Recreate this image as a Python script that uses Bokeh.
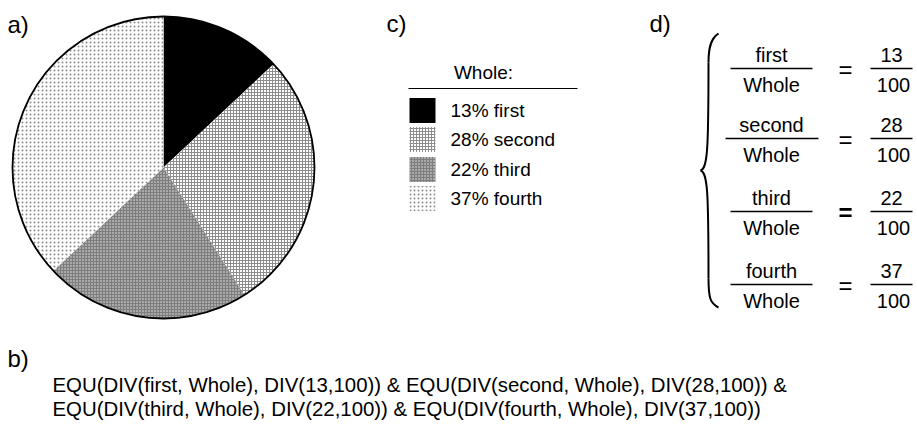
import numpy as np
from bokeh.plotting import figure
from bokeh.models import Range1d
from bokeh.embed import file_html
from bokeh.resources import INLINE
from bokeh.core.properties import value

# ---------------- data ----------------
names = ["first", "second", "third", "fourth"]
percents = [13, 28, 22, 37]
whole_total = 100
whole_label = "Whole"
legend_title = "Whole:"
panel_labels = ["a)", "b)", "c)", "d)"]

# ---------------- styles ----------------
fill_colors = ["#000000", "#ffffff", "#7e7e7e", "#ffffff"]
hatch_patterns = [" ", "+", ".", "."]
hatch_colors = ["#000000", "#8c8c8c", "#e8e8e8", "#8a8a8a"]
hatch_scales = [4, 3, 3, 4]
hatch_weights = [1, 1, 1.3, 1.5]
FONT = value("Liberation Sans")

W, H = 917, 435
p = figure(width=W, height=H, output_backend="svg", toolbar_location=None,
           x_range=Range1d(0, W), y_range=Range1d(0, H),
           x_axis_location=None, y_axis_location=None, min_border=0)
p.grid.visible = False
p.outline_line_color = None
p.background_fill_color = "white"


def Y(py):
    return H - py


# ---------------- a) pie ----------------
cx, cy, r = 163, Y(167), 151
frac = np.array(percents, dtype=float) / sum(percents)
cum = np.concatenate([[0], np.cumsum(frac)])
starts = np.pi / 2 - 2 * np.pi * cum[:-1]
ends = np.pi / 2 - 2 * np.pi * cum[1:]
p.wedge(x=[cx] * 4, y=[cy] * 4, radius=r, start_angle=starts, end_angle=ends,
        direction="clock", fill_color=fill_colors, hatch_pattern=hatch_patterns,
        hatch_color=hatch_colors, hatch_scale=hatch_scales, hatch_weight=hatch_weights,
        line_color=None)
p.circle(x=[cx], y=[cy], radius=r, fill_color=None, line_color="black", line_width=1.8)

# panel labels
p.text(x=[7, 7, 386, 649], y=[Y(24), Y(358), Y(23), Y(23)], text=panel_labels,
       text_font=FONT, text_font_size="24px", text_baseline="middle",
       text_align="left", text_color="black")

# ---------------- c) legend ----------------
p.text(x=[483], y=[Y(72)], text=[legend_title], text_font=FONT, text_font_size="19px",
       text_align="center", text_baseline="middle", text_color="black")
p.segment(x0=[408], y0=[Y(88)], x1=[577], y1=[Y(88)], line_color="black", line_width=1)
row_y = [Y(110), Y(139), Y(169), Y(198)]
p.rect(x=[422] * 4, y=row_y, width=26, height=25, fill_color=fill_colors,
       hatch_pattern=hatch_patterns, hatch_color=hatch_colors, hatch_scale=hatch_scales,
       hatch_weight=hatch_weights, line_color=None)
p.text(x=[450] * 4, y=row_y, text=[f"{v}% {n}" for v, n in zip(percents, names)],
       text_font=FONT, text_font_size="19px", text_align="left", text_baseline="middle",
       text_color="black")

# ---------------- d) equations ----------------
bar_y = [68, 138, 211, 284]
lx0 = [730, 725, 730, 730]
lx1 = [812, 818, 812, 812]
p.segment(x0=lx0, y0=[Y(b) for b in bar_y], x1=lx1, y1=[Y(b) for b in bar_y],
          line_color="black", line_width=1.3)
p.segment(x0=[870] * 4, y0=[Y(b) for b in bar_y], x1=[912] * 4, y1=[Y(b) for b in bar_y],
          line_color="black", line_width=1.3)
p.text(x=[771] * 4, y=[Y(b - 14) for b in bar_y], text=names, text_font=FONT,
       text_font_size="20px", text_align="center", text_baseline="middle",
       text_color="black")
p.text(x=[771] * 4, y=[Y(b + 16) for b in bar_y], text=[whole_label] * 4, text_font=FONT,
       text_font_size="20px", text_align="center", text_baseline="middle",
       text_color="black")
p.text(x=[891] * 4, y=[Y(b - 14) for b in bar_y], text=[str(v) for v in percents],
       text_font=FONT, text_font_size="20px", text_align="center",
       text_baseline="middle", text_color="black")
p.text(x=[893] * 4, y=[Y(b + 16) for b in bar_y], text=[str(whole_total)] * 4,
       text_font=FONT, text_font_size="20px", text_align="center",
       text_baseline="middle", text_color="black")
p.text(x=[845] * 4, y=[Y(b + 1) for b in bar_y], text=["="] * 4, text_font=FONT,
       text_font_size="24px", text_align="center", text_baseline="middle",
       text_color="black", text_font_style=["normal", "normal", "bold", "normal"])

# brace
p.bezier(x0=[718, 708, 700, 708], y0=[Y(33), Y(62), Y(170), Y(278)],
         x1=[708, 700, 708, 718], y1=[Y(62), Y(170), Y(278), Y(307)],
         cx0=[710, 708, 707, 708], cy0=[Y(38), Y(150), Y(172), Y(298)],
         cx1=[708, 707, 708, 710], cy1=[Y(48), Y(168), Y(190), Y(303)],
         line_color="black", line_width=2)

# ---------------- b) formula ----------------
terms = [f"EQU(DIV({n}, {whole_label}), DIV({v},{whole_total}))" for n, v in zip(names, percents)]
line1 = terms[0] + " & " + terms[1] + " &"
line2 = terms[2] + " & " + terms[3]
p.text(x=[52, 52], y=[Y(384), Y(408)], text=[line1, line2], text_font=FONT,
       text_font_size="20.4px", text_align="left", text_baseline="middle",
       text_color="black")

open("out.html", "w").write(file_html(p, INLINE))
